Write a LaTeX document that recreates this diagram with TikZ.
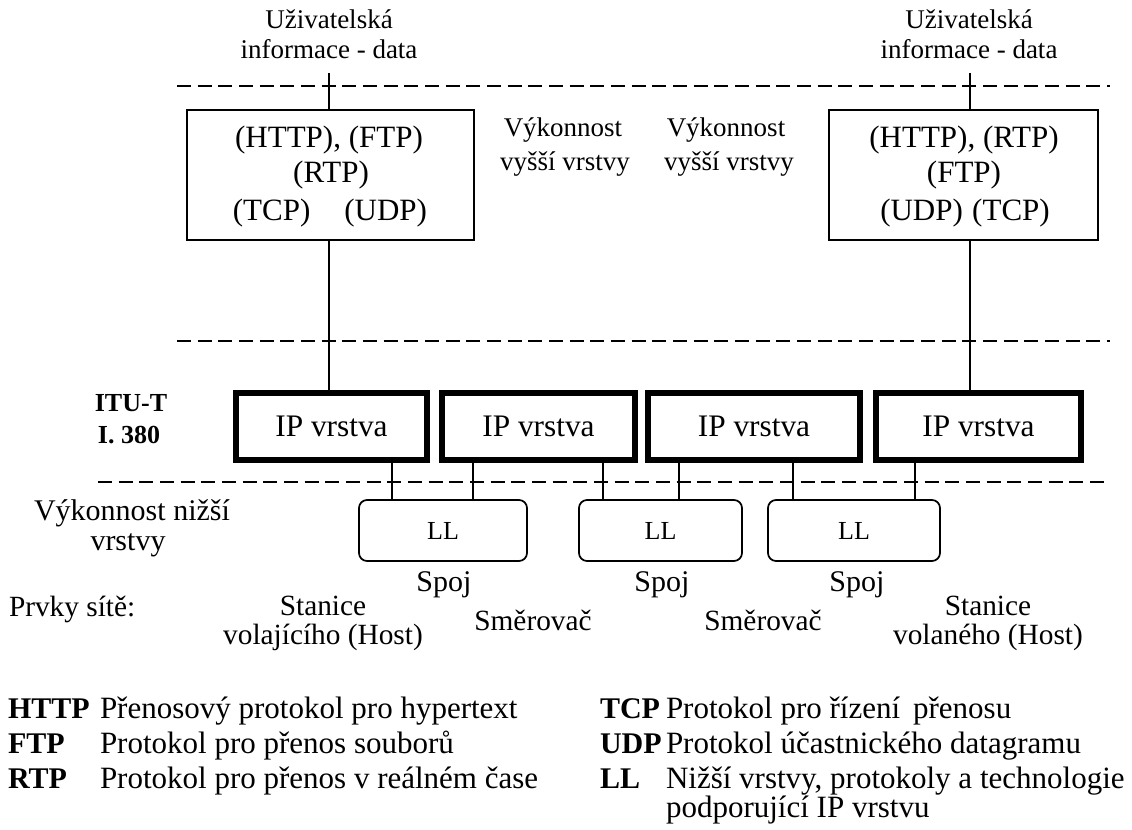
\documentclass[tikz,border=0pt]{standalone}
\usepackage{fontspec}
\setmainfont{Liberation Serif}
\begin{document}
\begin{tikzpicture}[x=0.75pt,y=-0.75pt,
  every node/.style={inner sep=0pt,outer sep=0pt},
  txt/.style={text height=0.7em,text depth=0.2em},
  big/.style={txt,font=\fontsize{23.25pt}{27pt}\selectfont},
  mid/.style={txt,font=\fontsize{20.25pt}{24pt}\selectfont},
  lab/.style={txt,font=\fontsize{22.5pt}{26pt}\selectfont},
  net/.style={txt,font=\fontsize{22pt}{26pt}\selectfont},
  key/.style={txt,anchor=west,font=\fontsize{22.5pt}{26pt}\selectfont\bfseries},
  desc/.style={txt,anchor=west,font=\fontsize{23.25pt}{26pt}\selectfont},
  itu/.style={txt,font=\fontsize{19.5pt}{22pt}\selectfont\bfseries},
  topbox/.style={draw,line width=1.5pt,minimum height=97.5pt},
  ipbox/.style={draw,line width=4.5pt,minimum height=50.25pt,font=\fontsize{23.5pt}{27pt}\selectfont},
  llbox/.style={draw,line width=1.3pt,rounded corners=6pt,minimum height=45.75pt,font=\fontsize{19.5pt}{22pt}\selectfont},
  conn/.style={line width=1.5pt},
  sep/.style={line width=1.4pt,dash pattern=on 10.5pt off 5pt}
]
\fill[white] (0,0) rectangle (1132,830);
\path[use as bounding box] (0,0) rectangle (1132,830);

% separators
\draw[sep] (177,86) -- (1110,86);
\draw[sep] (177,341) -- (1110,341);
\draw[sep] (98,482) -- (1110,482);

% user data labels
\node[mid] (ua1) at (329,25) {Uživatelská};
\node[mid] (ub1) at (329,55) {informace - data};
\node[mid] (ua2) at (969,25) {Uživatelská};
\node[mid] (ub2) at (969,55) {informace - data};

% upper boxes
\node[topbox,minimum width=215.25pt] (tb1) at (330.5,175) {};
\node[big] (t1a) at (329,144) {(HTTP), (FTP)};
\node[big] (t1b) at (331,179) {(RTP)};
\node[big] (t1c) at (330,217) {(TCP)\hspace{25.5pt}(UDP)};

\node[topbox,minimum width=201.75pt] (tb2) at (963.5,175) {};
\node[big] (t2a) at (964,144) {(HTTP), (RTP)};
\node[big] (t2b) at (964,179) {(FTP)};
\node[big] (t2c) at (965,217) {(UDP)\hspace{7pt}(TCP)};

\node[mid] (va1) at (563,133) {Výkonnost};
\node[mid] (vb1) at (565,167) {vyšší vrstvy};
\node[mid] (va2) at (726,133) {Výkonnost};
\node[mid] (vb2) at (729,167) {vyšší vrstvy};

% ITU-T
\node[itu] (itua) at (131,408) {ITU-T};
\node[itu] (itub) at (129,440) {I. 380};

% IP boxes
\node[ipbox,minimum width=143.25pt] (ip1) at (331.5,426.5) {IP vrstva};
\node[ipbox,minimum width=144.75pt] (ip2) at (538.5,426.5) {IP vrstva};
\node[ipbox,minimum width=159pt] (ip3) at (754,426.5) {IP vrstva};
\node[ipbox,minimum width=153.75pt] (ip4) at (978.5,426.5) {IP vrstva};

% LL boxes
\node[llbox,minimum width=126pt] (ll1) at (443,530.5) {LL};
\node[llbox,minimum width=122.25pt] (ll2) at (660.5,530.5) {LL};
\node[llbox,minimum width=129pt] (ll3) at (854,530.5) {LL};

% lower layer label
\node[lab] (vn1) at (132,517) {Výkonnost nižší};
\node[lab] (vn2) at (128,547) {vrstvy};

% connector coordinates
\coordinate (u1) at (329,73);
\coordinate (u2) at (970,73);
\coordinate (c1) at (392,0);
\coordinate (c2) at (473,0);
\coordinate (c3) at (603,0);
\coordinate (c4) at (679,0);
\coordinate (c5) at (793,0);
\coordinate (c6) at (915,0);

\draw[conn] (u1) -- (tb1.north -| u1);
\draw[conn] (tb1.south -| u1) -- (ip1.north -| u1);
\draw[conn] (u2) -- (tb2.north -| u2);
\draw[conn] (tb2.south -| u2) -- (ip4.north -| u2);

\draw[conn] (ip1.south -| c1) -- (ll1.north -| c1);
\draw[conn] (ip2.south -| c2) -- (ll1.north -| c2);
\draw[conn] (ip2.south -| c3) -- (ll2.north -| c3);
\draw[conn] (ip3.south -| c4) -- (ll2.north -| c4);
\draw[conn] (ip3.south -| c5) -- (ll3.north -| c5);
\draw[conn] (ip4.south -| c6) -- (ll3.north -| c6);

% network elements
\node[lab] (sp1) at (444,588) {Spoj};
\node[lab] (sp2) at (662,588) {Spoj};
\node[lab] (sp3) at (857,588) {Spoj};
\node[net,anchor=west] (prv) at (9,613) {Prvky sítě:};
\node[net] (st1a) at (323,612) {Stanice};
\node[net] (st1b) at (323,641) {volajícího (Host)};
\node[net] (sm1) at (533,627) {Směrovač};
\node[net] (sm2) at (763,627) {Směrovač};
\node[net] (st2a) at (988,612) {Stanice};
\node[net] (st2b) at (988,641) {volaného (Host)};

% legend
\node[key] (k1) at (8,715) {HTTP};
\node[desc] (d1) at (100,715) {Přenosový protokol pro hypertext};
\node[key] (k2) at (8,750) {FTP};
\node[desc] (d2) at (100,750) {Protokol pro přenos souborů};
\node[key] (k3) at (8,785) {RTP};
\node[desc] (d3) at (100,785) {Protokol pro přenos v reálném čase};
\node[key] (k4) at (600,715) {TCP};
\node[desc] (d4) at (666,715) {Protokol pro řízení\, přenosu};
\node[key] (k5) at (600,750) {UDP};
\node[desc] (d5) at (666,750) {Protokol účastnického datagramu};
\node[key] (k6) at (600,785) {LL};
\node[desc] (d6) at (666,785) {Nižší vrstvy, protokoly a technologie};
\node[desc] (d7) at (666,814) {podporující IP vrstvu};
\end{tikzpicture}
\end{document}
